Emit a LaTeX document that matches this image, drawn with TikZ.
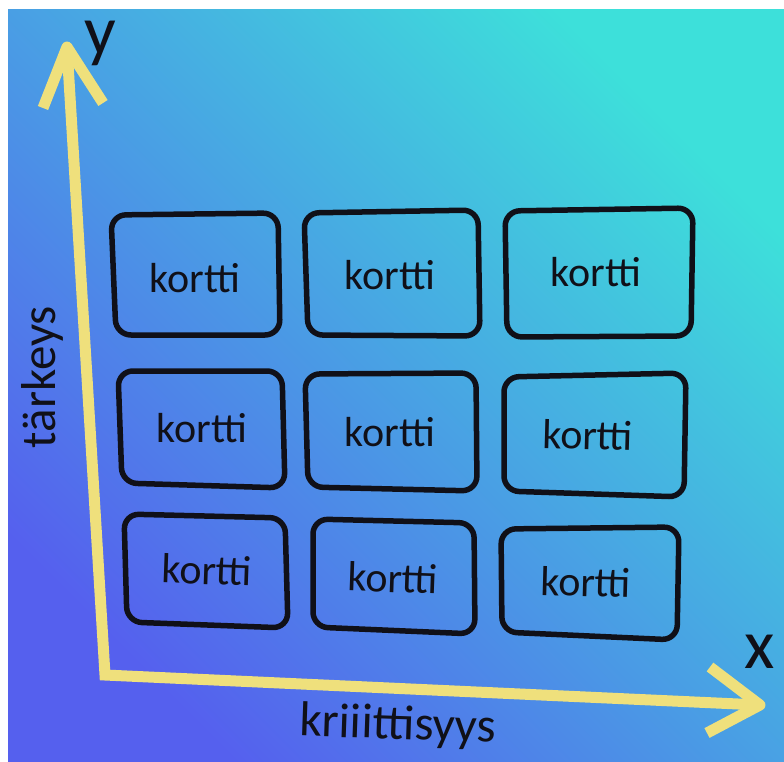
\documentclass[tikz,border=0pt]{standalone}
\usepackage{fontspec}
\setmainfont{Carlito}
\definecolor{bgblue}{HTML}{5560EE}
\definecolor{bgmid}{HTML}{45A3E6}
\definecolor{bgcyan}{HTML}{3DE0DA}
\definecolor{axisyellow}{HTML}{EFE07C}
\definecolor{ink}{HTML}{101018}
\begin{document}
\begin{tikzpicture}[x=1pt,y=-1pt,
  cardbox/.style={draw=ink, line width=5.5pt, rounded corners=15pt},
  cardtext/.style={font=\fontsize{42}{50}\selectfont, text=ink, inner sep=0pt},
  axisline/.style={draw=axisyellow, line width=11pt},
  axislabel/.style={font=\fontsize{70}{82}\selectfont, text=ink, inner sep=0pt},
  axisname/.style={font=\fontsize{49}{58}\selectfont, text=ink, inner sep=0pt}
]
\useasboundingbox (0,0) rectangle (784,762);
\fill[white] (0,0) rectangle (784,762);
\shade[bottom color=bgblue, middle color=bgmid, top color=bgcyan, shading angle=-45] (8,10) rectangle (784,762);

% cards
\draw[cardbox] (111,215) -- (278,213) -- (280,335) -- (116,335) -- cycle;
\draw[cardbox] (304,213) -- (478,210) -- (480,336) -- (308,335) -- cycle;
\draw[cardbox] (505,211) -- (693,208) -- (691,336) -- (507,337) -- cycle;
\draw[cardbox] (118,371) -- (282,371) -- (285,488) -- (122,483) -- cycle;
\draw[cardbox] (305,374) -- (476,373) -- (477,491) -- (308,487) -- cycle;
\draw[cardbox] (504,377) -- (686,373) -- (684,497) -- (504,491) -- cycle;
\draw[cardbox] (124,514) -- (285,518) -- (288,628) -- (127,622) -- cycle;
\draw[cardbox] (313,519) -- (474,523) -- (475,634) -- (313,627) -- cycle;
\draw[cardbox] (501,529) -- (679,527) -- (677,640) -- (502,632) -- cycle;

\node[cardtext] (k1) at (195,278) {kortti};
\node[cardtext] (k2) at (390,275) {kortti};
\node[cardtext] (k3) at (596,272) {kortti};
\node[cardtext] (k4) at (202,428) {kortti};
\node[cardtext] (k5) at (390,432) {kortti};
\node[cardtext, rotate=-1.5] (k6) at (588,435) {kortti};
\node[cardtext, rotate=-2] (k7) at (207,570) {kortti};
\node[cardtext, rotate=-2] (k8) at (393,578) {kortti};
\node[cardtext, rotate=-1.5] (k9) at (586,582) {kortti};

% axes
\coordinate (O) at (105,675);
\coordinate (ytip) at (67,47);
\coordinate (xtip) at (760,705);
\coordinate (ya) at (43,108);
\coordinate (yb) at (103,103);
\coordinate (xa) at (710,667);
\coordinate (xb) at (707,733);
\draw[axisline, line join=miter] (ytip) -- (O) -- (xtip);
\draw[axisline, line join=round] (ya) -- (ytip) -- (yb);
\draw[axisline, line join=round] (xa) -- (xtip) -- (xb);

\node[axislabel] (ylab) at (100,43) {y};
\node[axislabel] (xlab) at (760,652) {x};
\node[axisname, rotate=90] (yname) at (42,377) {tärkeys};
\node[axisname, rotate=-2] (xname) at (398,726) {kriiittisyys};
\end{tikzpicture}
\end{document}
